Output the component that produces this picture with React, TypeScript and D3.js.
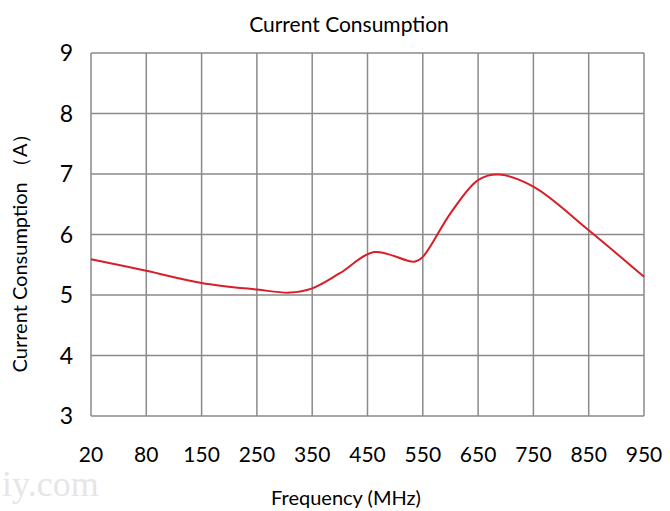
import React from "react";
import * as d3 from "d3";

// tick labels on the category axis (equally spaced)
const freqLabels = ["20", "80", "150", "250", "350", "450", "550", "650", "750", "850", "950"];
const yTicks = [3, 4, 5, 6, 7, 8, 9];

// curve samples: position in category units, current in A
const samplePos = [0, 1, 2, 3, 3.6, 4, 4.5, 5.12, 5.85, 6, 6.5, 7, 7.37, 8, 9, 10];
const current = [5.59, 5.4, 5.2, 5.09, 5.04, 5.11, 5.36, 5.71, 5.55, 5.63, 6.35, 6.9, 6.99, 6.79, 6.07, 5.3];

const App = () => {
  const width = 670;
  const height = 511;
  const margin = { top: 53, right: 26, bottom: 95, left: 91 };
  const font = "Lato, 'Open Sans', sans-serif";

  const x = d3
    .scaleLinear()
    .domain([0, freqLabels.length - 1])
    .range([margin.left, width - margin.right]);

  const y = d3
    .scaleLinear()
    .domain([3, 9])
    .range([height - margin.bottom, margin.top]);

  const points: [number, number][] = samplePos.map((p, i) => [p, current[i]]);
  const line = d3
    .line<[number, number]>()
    .x((d) => x(d[0]))
    .y((d) => y(d[1]))
    .curve(d3.curveCatmullRom.alpha(0.5));

  return (
    <svg
      width={width}
      height={height}
      style={{ position: "absolute", left: 0, top: 0, background: "#fff" }}
    >
      {/* watermark */}
      <text x={2} y={496} fontFamily="'Liberation Serif', serif" fontSize={36} fill="#e6e6e6">
        iy.com
      </text>

      {/* grid */}
      <g stroke="#8a8a8a" strokeWidth={1.5}>
        {freqLabels.map((_, i) => (
          <line key={"v" + i} x1={x(i)} x2={x(i)} y1={y(3)} y2={y(9)} />
        ))}
        {yTicks.map((t) => (
          <line key={"h" + t} x1={x(0)} x2={x(10)} y1={y(t)} y2={y(t)} />
        ))}
      </g>

      {/* series */}
      <path d={line(points) || ""} fill="none" stroke="#d81e28" strokeWidth={2} />

      {/* y tick labels */}
      {yTicks.map((t) => (
        <text
          key={"yt" + t}
          x={73}
          y={y(t)}
          dy="0.36em"
          textAnchor="end"
          fontFamily={font}
          fontSize={23}
          fill="#000"
        >
          {t}
        </text>
      ))}

      {/* x tick labels */}
      {freqLabels.map((l, i) => (
        <text
          key={"xt" + l}
          x={x(i)}
          y={462}
          textAnchor="middle"
          fontFamily={font}
          fontSize={21}
          fill="#000"
        >
          {l}
        </text>
      ))}

      {/* titles */}
      <text x={349} y={32} textAnchor="middle" fontFamily={font} fontSize={21} fill="#000">
        Current Consumption
      </text>
      <text x={346} y={505} textAnchor="middle" fontFamily={font} fontSize={20} fill="#000">
        Frequency (MHz)
      </text>
      <text
        transform="translate(27,248) rotate(-90)"
        textAnchor="middle"
        fontFamily={font}
        fontSize={20}
        fill="#000"
      >
        Current Consumption （A）
      </text>
    </svg>
  );
};

export default App;
